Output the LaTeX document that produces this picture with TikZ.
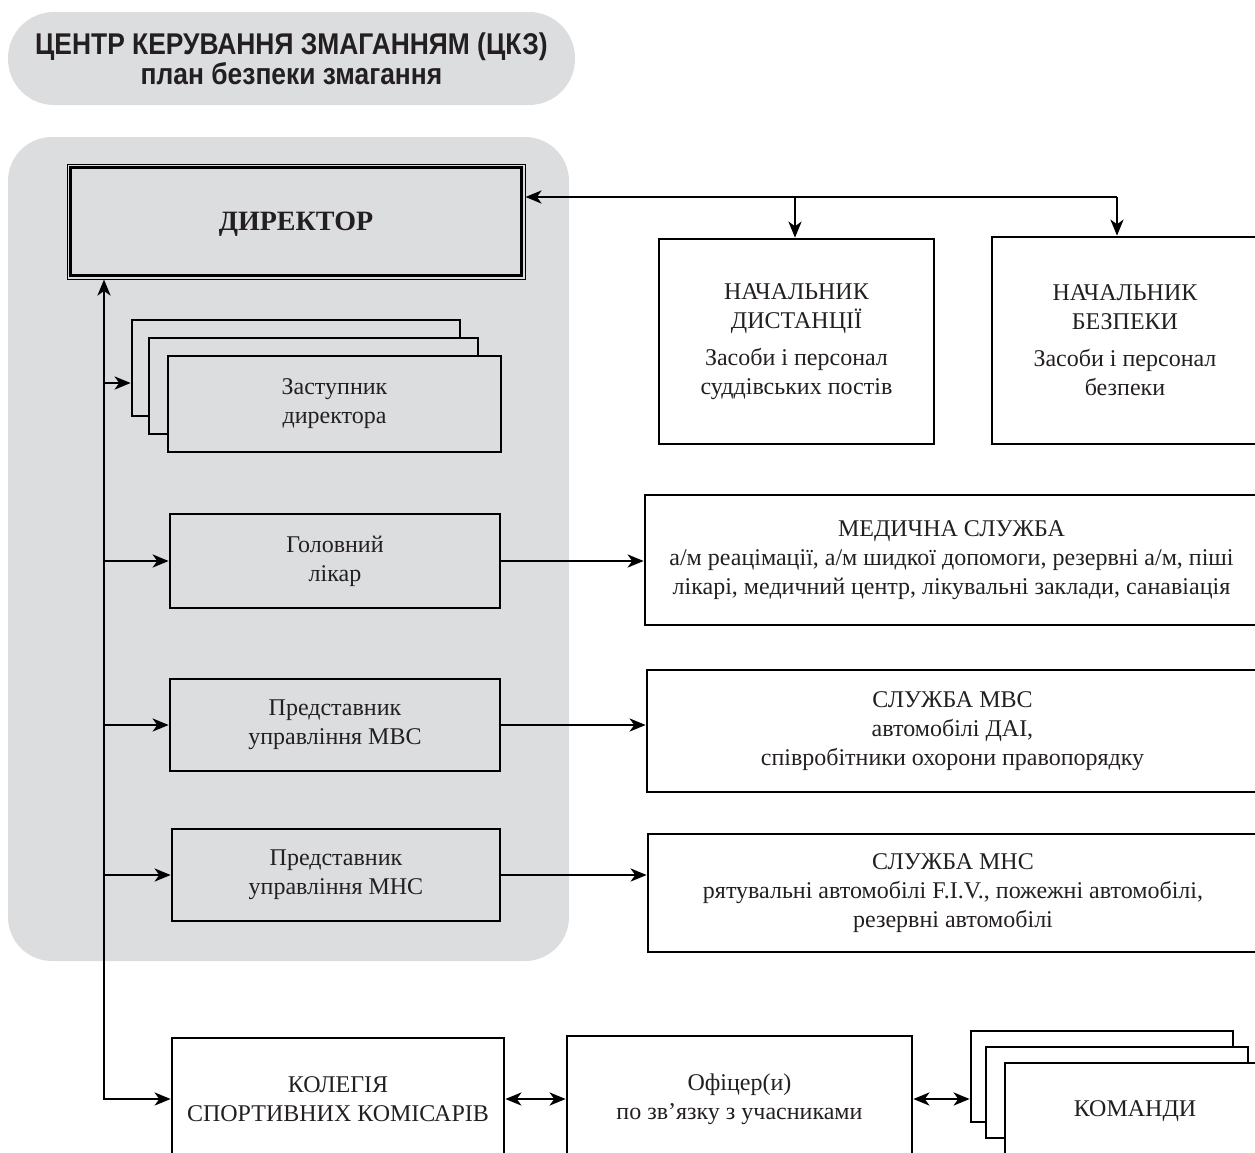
\documentclass[tikz,border=0pt]{standalone}
\usepackage{fontspec}
\setmainfont{Liberation Serif}
\newfontfamily\titlefont{Liberation Sans}
\usetikzlibrary{arrows.meta}
\definecolor{panel}{HTML}{DCDDDF}
\definecolor{ink}{HTML}{231F20}
\newcommand\bx[7][]{\node[box,#1,minimum width={(#5-#3)*0.5pt},minimum height={(#6-#4)*0.5pt}] (#2) at ({(#3+#5)/2},{(#4+#6)/2}) {#7};}
\begin{document}
\begin{tikzpicture}[x=0.5pt,y=-0.5pt,
  box/.style={draw=black, line width=1.35pt, align=center, text=ink, font=\fontsize{12}{14.5}\selectfont, inner sep=0pt},
  tip/.tip={Stealth[length=8pt,width=6.5pt,inset=2.3pt]},
  arr/.style={line width=1.35pt, -tip},
  darr/.style={line width=1.35pt, tip-tip},
  bg/.style={draw=none, fill=panel},
]
\useasboundingbox (0,0) rectangle (1255,1153);
\clip (0,0) rectangle (1255,1153);
% title
\bx[bg, rounded corners=23pt, text=ink, font=\titlefont\bfseries\fontsize{15}{15}\selectfont]{title}{8}{12}{575}{105}{\scalebox{0.88}[1]{ЦЕНТР КЕРУВАННЯ ЗМАГАННЯМ (ЦКЗ)}\\\scalebox{0.88}[1]{план безпеки змагання}}
% panel
\bx[bg, rounded corners=22pt]{panel}{8}{137}{569}{961}{}
% director
\bx[line width=0.5pt, font=\bfseries\fontsize{14}{15}\selectfont, text depth=0pt]{dir}{67}{164}{525}{279}{ДИРЕКТОР}
\draw[line width=1.35pt] ([shift={(4,4)}]dir.north west) rectangle ([shift={(-4,-4)}]dir.south east);
% chiefs
\bx{nd}{659}{239}{934}{444}{НАЧАЛЬНИК\\ДИСТАНЦІЇ\\[4pt]Засоби і персонал\\суддівських постів}
\bx{nb}{992}{237}{1258}{444}{НАЧАЛЬНИК\\БЕЗПЕКИ\\[4pt]Засоби і персонал\\безпеки}
% deputy stack
\bx[fill=panel]{dp3}{132}{320}{460}{416}{}
\bx[fill=panel]{dp2}{149}{338}{478}{434}{}
\bx[fill=panel]{dp1}{168}{356}{501}{452}{Заступник\\директора}
% left column
\bx{hol}{170}{514}{500}{608}{Головний\\лікар}
\bx{mvs}{170}{679}{500}{771}{Представник\\управління МВС}
\bx{mns}{172}{829}{500}{921}{Представник\\управління МНС}
% services
\bx{med}{645}{495}{1258}{625}{МЕДИЧНА СЛУЖБА\\а/м реацімації, а/м шидкої допомоги, резервні а/м, піші\\лікарі, медичний центр, лікувальні заклади, санавіація}
\bx{smvs}{647}{670}{1258}{792}{СЛУЖБА МВС\\автомобілі ДАІ,\\співробітники охорони правопорядку}
\bx{smns}{648}{834}{1258}{952}{СЛУЖБА МНС\\рятувальні автомобілі F.I.V., пожежні автомобілі,\\резервні автомобілі}
% bottom row
\bx{kol}{172}{1038}{504}{1160}{КОЛЕГІЯ\\СПОРТИВНИХ КОМІСАРІВ}
\bx{of}{567}{1036}{912}{1162}{Офіцер(и)\\по зв’язку з учасниками}
\bx[fill=white]{km3}{971}{1031}{1233}{1122}{}
\bx[fill=white]{km2}{986}{1047}{1248}{1138}{}
\bx[fill=white]{km1}{1005}{1063}{1265}{1160}{КОМАНДИ}
% connectors
\coordinate (sx) at (104,0);
\coordinate (j1) at (795,197);
\coordinate (j2) at (1117,197);
\coordinate (da) at (104,383);
\draw[darr] (sx |- dir.south) -- (sx |- kol.west) -- (kol.west);
\draw[arr] (j2) -- (j2 -| dir.east);
\draw[arr] (j1) -- (j1 |- nd.north);
\draw[arr] (j2) -- (j2 |- nb.north);
\draw[arr] (da) -- (da -| dp3.west);
\draw[arr] (sx |- hol.west) -- (hol.west);
\draw[arr] (hol.east) -- (hol.east -| med.west);
\draw[arr] (sx |- mvs.west) -- (mvs.west);
\draw[arr] (mvs.east) -- (mvs.east -| smvs.west);
\draw[arr] (sx |- mns.west) -- (mns.west);
\draw[arr] (mns.east) -- (mns.east -| smns.west);
\draw[darr] (kol.east) -- (kol.east -| of.west);
\draw[darr] (of.east) -- (of.east -| km3.west);
\end{tikzpicture}
\end{document}
